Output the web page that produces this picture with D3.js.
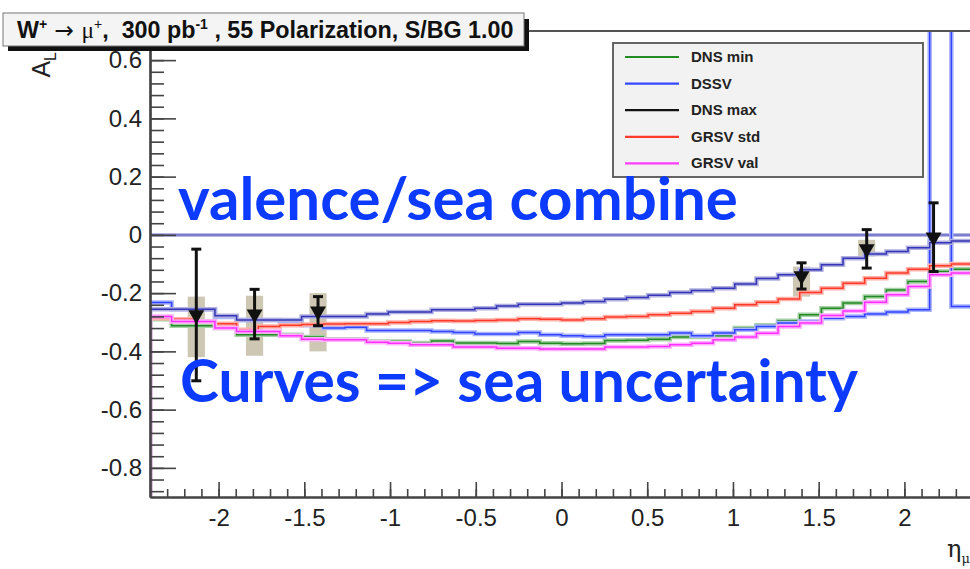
<!DOCTYPE html>
<html>
<head>
<meta charset="utf-8">
<script src="https://cdn.jsdelivr.net/npm/d3@7"></script>
<style>
body{margin:0;background:#fff;}
svg{display:block;font-family:"Liberation Sans",Arial,sans-serif;}
</style>
</head>
<body>
<svg id="chart"></svg>
<script>
// histogram binning in eta
var etaMin=-2.4, etaMax=2.4, nBins=38;

// A_L per bin
var dnsMin=[-0.29,-0.312,-0.312,-0.32,-0.343,-0.343,-0.343,-0.351,-0.358,-0.358,-0.366,-0.366,-0.371,-0.364,-0.371,-0.371,-0.373,-0.366,-0.372,-0.374,-0.373,-0.363,-0.362,-0.358,-0.351,-0.351,-0.346,-0.32,-0.31,-0.295,-0.274,-0.252,-0.234,-0.212,-0.189,-0.16,-0.126,-0.118];
var dssvLow=[-0.232,-0.255,-0.255,-0.282,-0.292,-0.292,-0.295,-0.31,-0.32,-0.317,-0.328,-0.328,-0.328,-0.332,-0.335,-0.34,-0.34,-0.335,-0.343,-0.346,-0.349,-0.343,-0.343,-0.343,-0.337,-0.346,-0.337,-0.326,-0.315,-0.303,-0.297,-0.286,-0.28,-0.272,-0.265,-0.257,1.5,-0.246];
var dssvHigh=[-0.255,-0.255,-0.255,-0.278,-0.292,-0.292,-0.292,-0.28,-0.28,-0.28,-0.272,-0.265,-0.265,-0.257,-0.257,-0.252,-0.244,-0.238,-0.238,-0.234,-0.229,-0.221,-0.215,-0.207,-0.198,-0.191,-0.183,-0.169,-0.15,-0.137,-0.12,-0.103,-0.08,-0.066,-0.057,-0.044,-0.027,-0.021];
var grsvStd=[-0.286,-0.29,-0.297,-0.305,-0.326,-0.315,-0.31,-0.308,-0.306,-0.305,-0.305,-0.301,-0.297,-0.295,-0.296,-0.294,-0.292,-0.288,-0.29,-0.292,-0.288,-0.282,-0.28,-0.274,-0.269,-0.263,-0.252,-0.24,-0.231,-0.22,-0.198,-0.183,-0.166,-0.149,-0.131,-0.118,-0.106,-0.1];
var grsvVal=[-0.28,-0.297,-0.297,-0.32,-0.332,-0.332,-0.346,-0.358,-0.36,-0.36,-0.369,-0.372,-0.377,-0.377,-0.385,-0.385,-0.389,-0.389,-0.392,-0.392,-0.392,-0.385,-0.385,-0.383,-0.377,-0.372,-0.36,-0.351,-0.338,-0.315,-0.303,-0.277,-0.261,-0.231,-0.206,-0.177,-0.137,-0.131];

// projected data points
var ptEta=[-2.13,-1.79,-1.42,1.40,1.78,2.17];
var ptAL=[-0.275,-0.272,-0.262,-0.141,-0.048,-0.008];
var ptErr=[0.226,0.085,0.05,0.045,0.066,0.118];
var sysLo=[-0.42,-0.415,-0.40,-0.212,-0.074,-0.008];
var sysHi=[-0.212,-0.209,-0.20,-0.109,-0.017,-0.008];

var legendNames=["DNS min","DSSV","DNS max","GRSV std","GRSV val"];
var legendColors=["#228a22","#3348ff","#111111","#ff3b2b","#ff3cff"];

var yTicks=[-0.8,-0.6,-0.4,-0.2,0,0.2,0.4,0.6];
var xTicks=[-2,-1.5,-1,-0.5,0,0.5,1,1.5,2];

var screen={width:970,height:569};
var margins={left:150,right:-3,top:31,bottom:72};
var graph={
    width:screen.width-margins.left-margins.right,
    height:screen.height-margins.top-margins.bottom
};

var svg=d3.select("#chart")
    .attr("width",screen.width)
    .attr("height",screen.height);

var xScale=d3.scaleLinear().domain([etaMin,etaMax]).range([0,graph.width]);
var yScale=d3.scaleLinear().domain([-0.9,0.7]).range([graph.height,0]);

svg.append("defs").append("clipPath").attr("id","plotclip")
    .append("rect").attr("width",graph.width).attr("height",graph.height);

var target=svg.append("g")
    .attr("transform","translate("+margins.left+","+margins.top+")");

var plot=target.append("g").attr("clip-path","url(#plotclip)");

// frame top
target.append("line")
    .attr("x1",0).attr("x2",graph.width).attr("y1",0).attr("y2",0)
    .attr("stroke","#555").attr("stroke-width",2);

// zero line
plot.append("line")
    .attr("x1",0).attr("x2",graph.width)
    .attr("y1",yScale(0)).attr("y2",yScale(0))
    .attr("stroke","#b8b8e6").attr("stroke-width",4);
plot.append("line")
    .attr("x1",0).attr("x2",graph.width)
    .attr("y1",yScale(0)).attr("y2",yScale(0))
    .attr("stroke","#6a6ac4").attr("stroke-width",1.5);

// systematic boxes
plot.selectAll(".sys")
    .data(ptEta)
    .enter()
    .append("rect")
    .attr("class","sys")
    .attr("x",function(d){return xScale(d-0.05);})
    .attr("width",function(d){return xScale(d+0.05)-xScale(d-0.05);})
    .attr("y",function(d,i){return yScale(sysHi[i]);})
    .attr("height",function(d,i){return yScale(sysLo[i])-yScale(sysHi[i]);})
    .attr("fill","#cdc7b3");

// histogram curves
var binW=(etaMax-etaMin)/nBins;
var stepLine=d3.line()
    .x(function(p){return xScale(p[0]);})
    .y(function(p){return yScale(p[1]);})
    .curve(d3.curveStepAfter);
var toPoints=function(vals)
    {
        var pts=[[etaMin,-0.9]];
        vals.forEach(function(v,i){pts.push([etaMin+i*binW,v]);});
        pts.push([etaMax,vals[vals.length-1]]);
        return pts;
    }
var curves=[
    {vals:dnsMin,core:"#238a23",halo:"#a6d0a6"},
    {vals:dssvLow,core:"#3344ff",halo:"#aab4ff"},
    {vals:dssvHigh,core:"#3535b5",halo:"#b0b0e2"},
    {vals:grsvStd,core:"#ff3a2a",halo:"#ffb0a8"},
    {vals:grsvVal,core:"#ff30ff",halo:"#ffb0ff"}
];
curves.forEach(function(c)
    {
        plot.append("path").attr("d",stepLine(toPoints(c.vals)))
            .attr("fill","none").attr("stroke",c.halo).attr("stroke-width",4.5);
        plot.append("path").attr("d",stepLine(toPoints(c.vals)))
            .attr("fill","none").attr("stroke",c.core).attr("stroke-width",1.5);
    });

// error bars
var bars=plot.selectAll(".err")
    .data(ptEta)
    .enter()
    .append("g")
    .attr("class","err");
bars.append("line")
    .attr("x1",function(d){return xScale(d);})
    .attr("x2",function(d){return xScale(d);})
    .attr("y1",function(d,i){return yScale(ptAL[i]+ptErr[i]);})
    .attr("y2",function(d,i){return yScale(ptAL[i]-ptErr[i]);})
    .attr("stroke","#111").attr("stroke-width",3);
[1,-1].forEach(function(s)
    {
        bars.append("line")
            .attr("x1",function(d){return xScale(d)-5;})
            .attr("x2",function(d){return xScale(d)+5;})
            .attr("y1",function(d,i){return yScale(ptAL[i]+s*ptErr[i]);})
            .attr("y2",function(d,i){return yScale(ptAL[i]+s*ptErr[i]);})
            .attr("stroke","#111").attr("stroke-width",3);
    });
bars.append("path")
    .attr("d",d3.symbol().type(d3.symbolTriangle).size(110))
    .attr("transform",function(d,i){return "translate("+xScale(d)+","+yScale(ptAL[i])+") rotate(180)";})
    .attr("fill","#111");

// axes
var fmt=function(d){return String(+d.toFixed(1));};
var yAxis=d3.axisLeft(yScale).tickValues(yTicks).tickFormat(fmt)
    .tickSize(-26).tickSizeOuter(0).tickPadding(8);
var yMinor=d3.axisLeft(yScale).tickValues(d3.range(-0.88,0.7,0.04))
    .tickFormat("").tickSize(-14).tickSizeOuter(0);
var xAxis=d3.axisBottom(xScale).tickValues(xTicks).tickFormat(fmt)
    .tickSize(-15).tickSizeOuter(0).tickPadding(12);
var xMinor=d3.axisBottom(xScale).tickValues(d3.range(-2.3,2.4,0.1))
    .tickFormat("").tickSize(-8).tickSizeOuter(0);

[yMinor,yAxis].forEach(function(a)
    {
        target.append("g").attr("class","axis").call(a);
    });
[xMinor,xAxis].forEach(function(a)
    {
        target.append("g").attr("class","axis")
            .attr("transform","translate(0,"+graph.height+")").call(a);
    });
target.selectAll(".axis .domain").attr("stroke","#444").attr("stroke-width",2.2);
target.selectAll(".axis .tick line").attr("stroke","#444").attr("stroke-width",1.6);
target.selectAll(".axis text")
    .attr("font-size",24).attr("fill","#222")
    .attr("font-family","Liberation Sans, Arial, sans-serif");

// title box
var titleG=svg.append("g");
titleG.append("rect").attr("x",8).attr("y",19).attr("width",521).attr("height",32).attr("fill","#111");
titleG.append("rect").attr("x",3).attr("y",13).attr("width",521).attr("height",33)
    .attr("fill","#f4f4f4").attr("stroke","#777").attr("stroke-width",1);
var title=titleG.append("text").attr("x",17).attr("y",38)
    .attr("xml:space","preserve").style("white-space","pre")
    .attr("font-size",23.3).attr("font-weight","bold").attr("fill","#111");
title.append("tspan").text("W");
title.append("tspan").attr("font-size",14).attr("dy",-9).text("+");
title.append("tspan").attr("dy",9).attr("font-weight","normal").attr("font-family","DejaVu Sans").text(" \u2192 ");
title.append("tspan").attr("font-weight","normal").attr("font-family","Liberation Serif").text("\u03bc");
title.append("tspan").attr("font-size",14).attr("dy",-9).attr("font-weight","normal").text("+");
title.append("tspan").attr("dy",9).text(",  300 pb");
title.append("tspan").attr("font-size",14).attr("dy",-9).text("-1");
title.append("tspan").attr("dy",9).text(" , 55 Polarization, S/BG 1.00");

// legend
var legend=svg.append("g").attr("transform","translate(613,43)");
legend.append("rect").attr("width",310).attr("height",134)
    .attr("fill","#f2f2f2").attr("stroke","#555").attr("stroke-width",1.8);
var rows=legend.selectAll(".row").data(legendNames).enter().append("g")
    .attr("transform",function(d,i){return "translate(0,"+(14+i*26.6)+")";});
rows.append("line").attr("x1",12).attr("x2",66).attr("y1",0).attr("y2",0)
    .attr("stroke",function(d,i){return legendColors[i];}).attr("stroke-width",2.2);
rows.append("text").attr("x",78).attr("y",5).text(function(d){return d;})
    .attr("font-size",15).attr("font-weight","bold").attr("fill","#222");

// axis titles
var yLab=svg.append("text").attr("transform","translate(50,52) rotate(-90)")
    .attr("text-anchor","end").attr("font-size",25).attr("fill","#222");
yLab.append("tspan").text("A");
yLab.append("tspan").attr("font-size",16).attr("dy",6).text("L");
var xLab=svg.append("text").attr("x",947).attr("y",557)
    .attr("font-size",24).attr("fill","#222").attr("font-family","DejaVu Serif");
xLab.append("tspan").text("\u03b7");
xLab.append("tspan").attr("font-size",13).attr("dy",6).text("\u03bc");

// slide annotations
var notes=[
    {text:"valence/sea combine",x:178,y:220,w:560},
    {text:"Curves => sea uncertainty",x:180,y:402,w:678}
];
notes.forEach(function(n)
    {
        var t=svg.append("text").attr("x",n.x).attr("y",n.y)
            .attr("font-family","Lato, Open Sans, sans-serif")
            .attr("font-weight","bold").attr("font-size",48)
            .attr("fill","#0c3bff").text(n.text);
        var w=t.node().getComputedTextLength();
        t.attr("font-size",48*n.w/w);
    });
</script>
</body>
</html>
